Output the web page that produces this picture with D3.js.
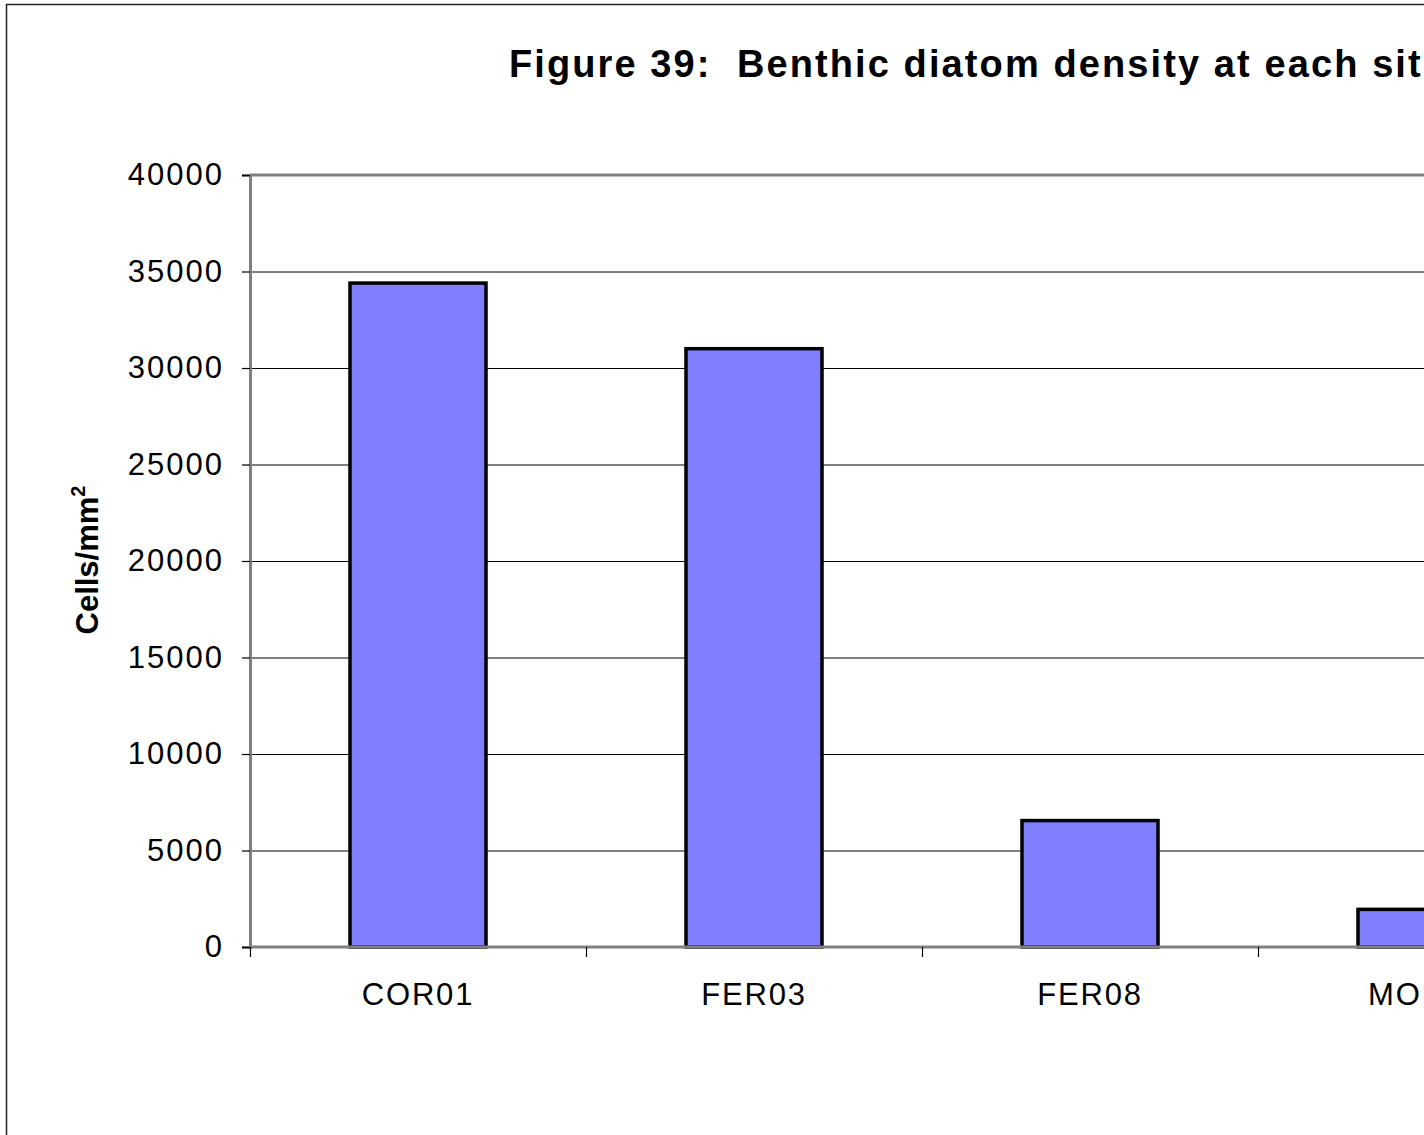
<!DOCTYPE html>
<html>
<head>
<meta charset="utf-8">
<script src="https://cdn.jsdelivr.net/npm/d3@7"></script>
<style>
  html, body { margin: 0; padding: 0; background: #fff; overflow: hidden; }
  svg { display: block; font-family: "Liberation Sans", Arial, sans-serif; }
</style>
</head>
<body>
<div id="chart"></div>
<script>
// data
const sites = ["COR01", "FER03", "FER08", "MOR01"];
const density = [34400, 31000, 6550, 1950];
const yTicks = [0, 5000, 10000, 15000, 20000, 25000, 30000, 35000, 40000];

const width = 1424, height = 1135;
const margin = { top: 175, left: 250, bottom: 188 };
const step = 336;

const svg = d3.select("#chart").append("svg")
    .attr("width", width)
    .attr("height", height);

// outer frame of the chart object
svg.append("rect")
    .attr("x", 6.5).attr("y", 4.5)
    .attr("width", width + 20).attr("height", height + 20)
    .attr("fill", "none")
    .attr("stroke", "#222")
    .attr("stroke-width", 1.5);

const plotH = height - margin.top - margin.bottom;

const x = d3.scaleBand()
    .domain(sites)
    .range([margin.left, margin.left + step * sites.length])
    .paddingInner(1 - 136 / 336)
    .paddingOuter((1 - 136 / 336) / 2);

const y = d3.scaleLinear()
    .domain([0, 40000])
    .range([margin.top + plotH, margin.top]);

// gridlines
svg.append("g")
    .selectAll("line")
    .data(yTicks.filter(d => d > 0 && d < 40000))
    .join("line")
    .attr("x1", margin.left).attr("x2", width + 10)
    .attr("y1", d => y(d) + 0.5).attr("y2", d => y(d) + 0.5)
    .attr("stroke", "#000")
    .attr("stroke-width", 1);

// top border of plot area
svg.append("line")
    .attr("x1", margin.left).attr("x2", width + 10)
    .attr("y1", y(40000)).attr("y2", y(40000))
    .attr("stroke", "#808080")
    .attr("stroke-width", 3);

// bars
svg.append("g")
    .selectAll("rect")
    .data(sites)
    .join("rect")
    .attr("x", d => x(d))
    .attr("y", (d, i) => y(density[i]))
    .attr("width", x.bandwidth())
    .attr("height", (d, i) => y(0) - y(density[i]))
    .attr("fill", "#8080FF")
    .attr("stroke", "#000")
    .attr("stroke-width", 3.5);

// y axis
const yAxis = d3.axisLeft(y)
    .tickValues(yTicks)
    .tickSize(8)
    .tickPadding(18)
    .tickFormat(d3.format("d"));

const gy = svg.append("g")
    .attr("transform", `translate(${margin.left},0)`)
    .call(yAxis);
gy.select(".domain").attr("stroke", "#808080").attr("stroke-width", 3);
gy.selectAll(".tick line").attr("stroke", "#000").attr("stroke-width", 1.2);
gy.selectAll(".tick text")
    .attr("font-size", 31)
    .attr("letter-spacing", 2)
    .attr("fill", "#000")
    .attr("font-family", "Liberation Sans, Arial, sans-serif");

// x axis: ticks sit between categories
const xEdge = d3.scaleLinear()
    .domain([0, sites.length])
    .range([margin.left, margin.left + step * sites.length]);

const gx = svg.append("g")
    .attr("transform", `translate(0,${y(0)})`);
gx.append("line")
    .attr("x1", margin.left).attr("x2", width + 10)
    .attr("stroke", "#808080")
    .attr("stroke-width", 3);
gx.selectAll(".edge")
    .data(d3.range(sites.length + 1))
    .join("line")
    .attr("class", "edge")
    .attr("x1", d => xEdge(d) + 0.5).attr("x2", d => xEdge(d) + 0.5)
    .attr("y1", 0).attr("y2", 10)
    .attr("stroke", "#000")
    .attr("stroke-width", 1.2);

svg.append("g")
    .selectAll("text")
    .data(sites)
    .join("text")
    .attr("x", d => x(d) + x.bandwidth() / 2)
    .attr("y", y(0) + 58)
    .attr("text-anchor", "middle")
    .attr("font-size", 31)
    .attr("letter-spacing", 1.8)
    .text(d => d);

// axis title
const yLab = svg.append("text")
    .attr("transform", `translate(98,${margin.top + plotH / 2 - 1}) rotate(-90)`)
    .attr("text-anchor", "middle")
    .attr("font-size", 31)
    .attr("font-weight", "bold");
yLab.append("tspan").text("Cells/mm");
yLab.append("tspan").attr("font-size", 20).attr("dy", -13).text("2");

// chart title
svg.append("text")
    .attr("x", 509)
    .attr("y", 77)
    .attr("font-size", 38)
    .attr("font-weight", "bold")
    .attr("letter-spacing", 2.1)
    .attr("xml:space", "preserve")
    .style("white-space", "pre")
    .text("Figure 39:  Benthic diatom density at each site");
</script>
</body>
</html>
